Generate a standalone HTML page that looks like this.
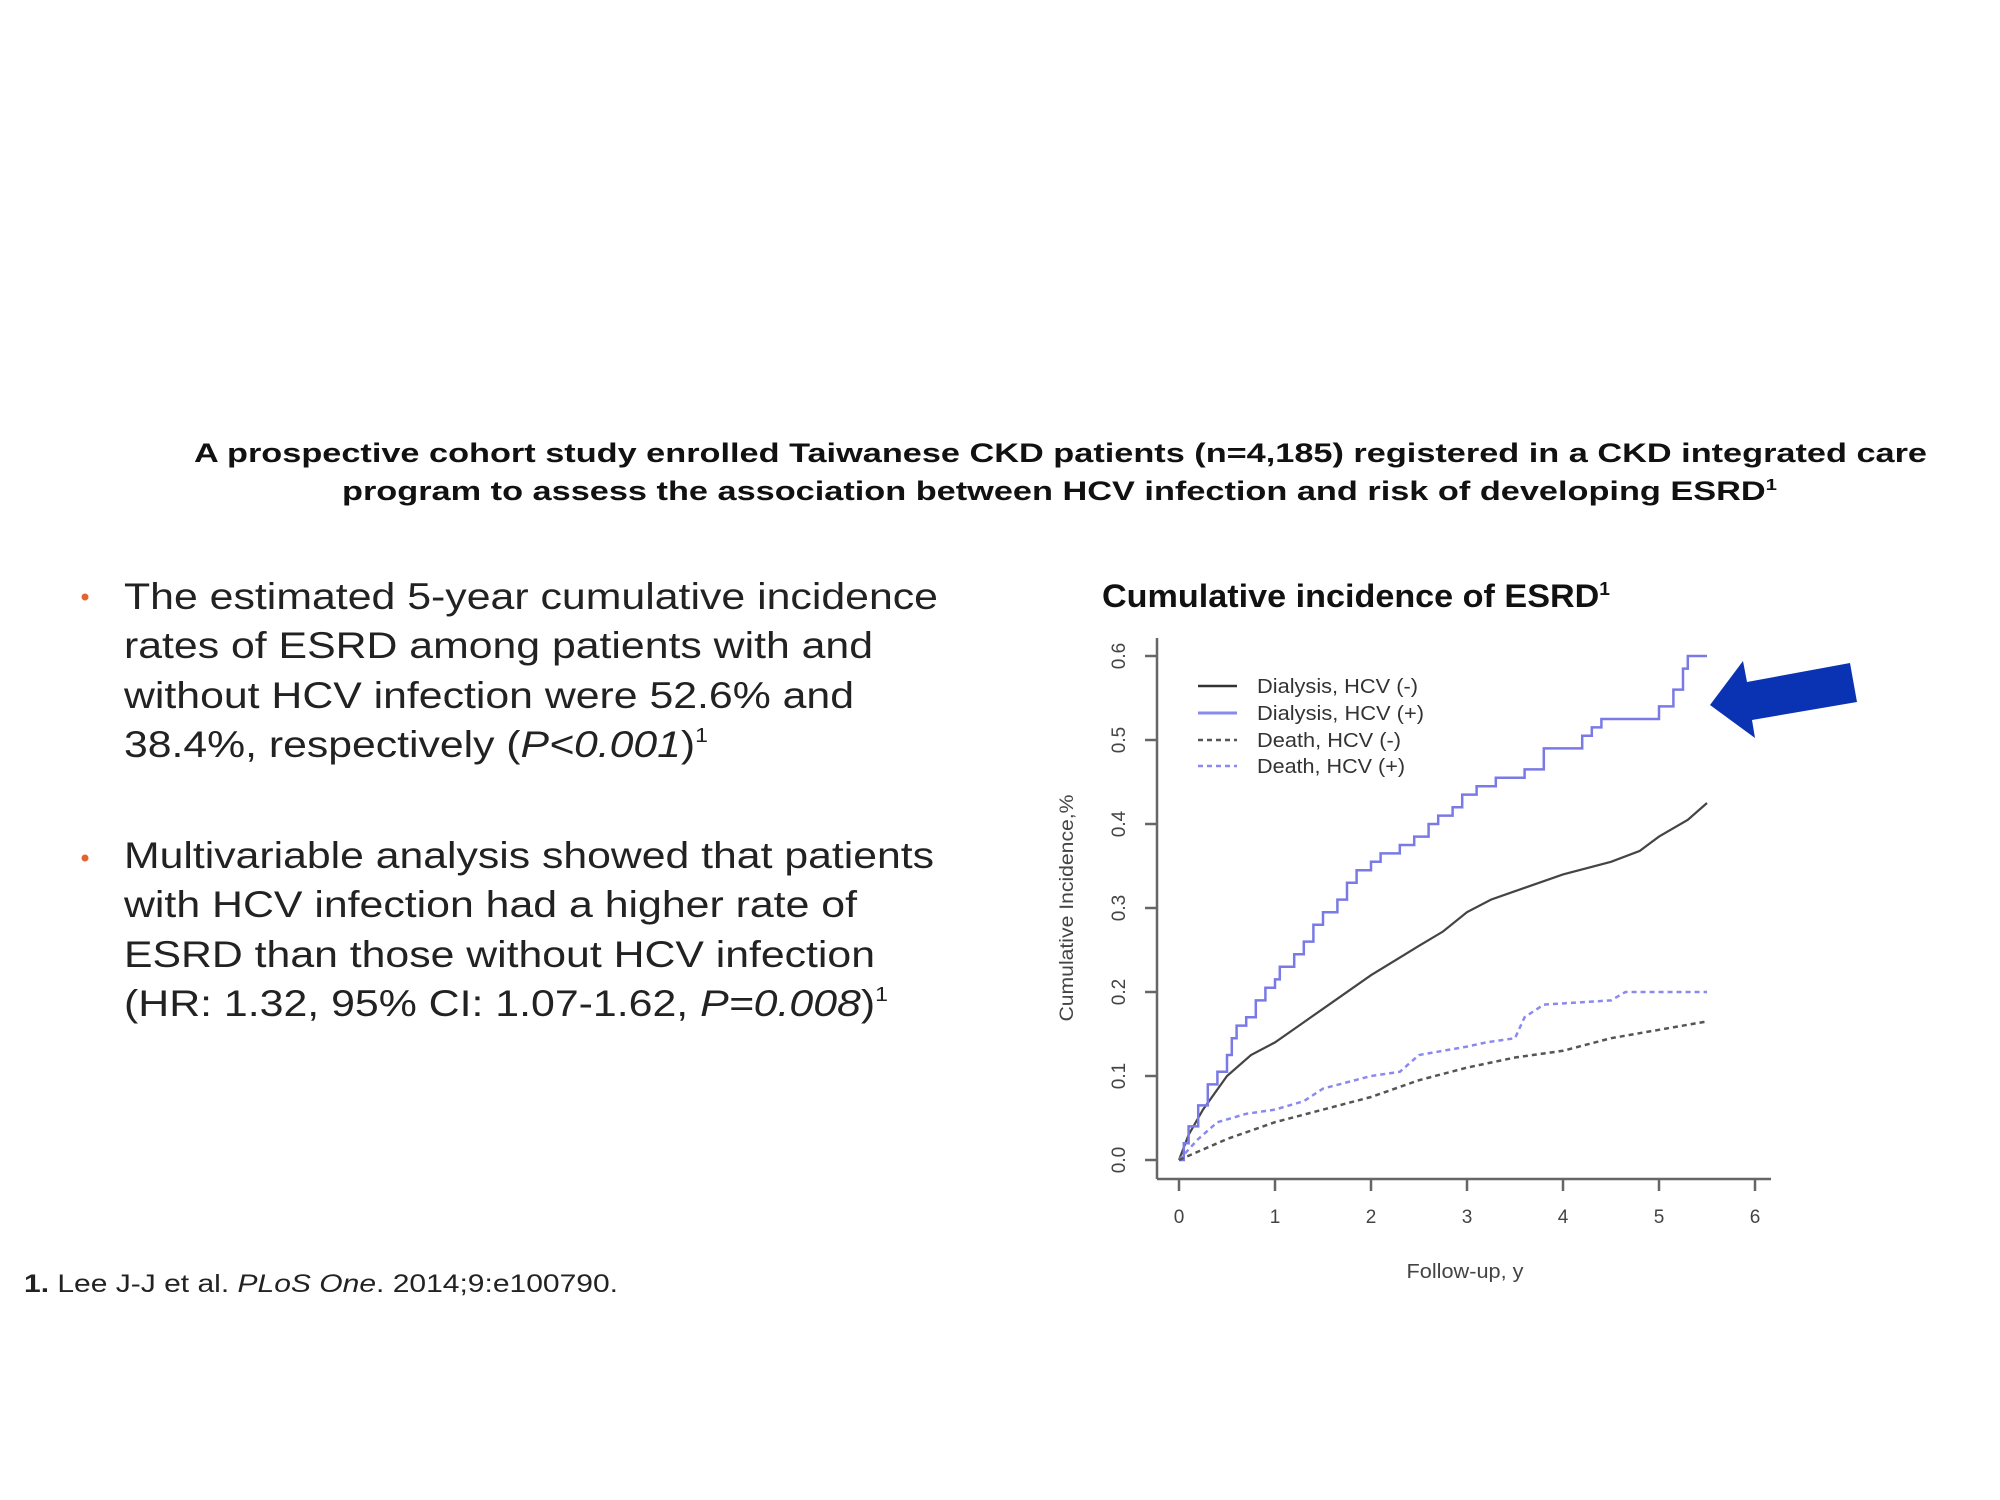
<!DOCTYPE html>
<html><head><meta charset="utf-8"><style>
html,body{margin:0;padding:0;background:#fff;}
svg{display:block;}
text{font-family:"Liberation Sans",Arial,sans-serif;}
</style></head><body>
<svg width="2000" height="1500" viewBox="0 0 2000 1500" xmlns="http://www.w3.org/2000/svg">
<rect width="2000" height="1500" fill="#fff"/>
<!-- header -->
<text x="194" y="462" font-size="27" font-weight="bold" fill="#111" textLength="1733" lengthAdjust="spacingAndGlyphs">A prospective cohort study enrolled Taiwanese CKD patients (n=4,185) registered in a CKD integrated care</text>
<text x="342" y="500" font-size="27" font-weight="bold" fill="#111" textLength="1435" lengthAdjust="spacingAndGlyphs">program to assess the association between HCV infection and risk of developing ESRD<tspan font-size="16" dy="-10">1</tspan></text>

<!-- bullets -->
<circle cx="85" cy="597" r="3.5" fill="#e8632b"/>
<circle cx="85" cy="858" r="3.5" fill="#e8632b"/>
<g font-size="37" fill="#222">
<text x="124" y="609" textLength="814" lengthAdjust="spacingAndGlyphs">The estimated 5-year cumulative incidence</text>
<text x="124" y="658" textLength="749" lengthAdjust="spacingAndGlyphs">rates of ESRD among patients with and</text>
<text x="124" y="708" textLength="730" lengthAdjust="spacingAndGlyphs">without HCV infection were 52.6% and</text>
<text x="124" y="757" textLength="584" lengthAdjust="spacingAndGlyphs">38.4%, respectively (<tspan font-style="italic">P&lt;0.001</tspan>)<tspan font-size="20" dy="-15">1</tspan></text>
<text x="124" y="868" textLength="810" lengthAdjust="spacingAndGlyphs">Multivariable analysis showed that patients</text>
<text x="124" y="917" textLength="733" lengthAdjust="spacingAndGlyphs">with HCV infection had a higher rate of</text>
<text x="124" y="967" textLength="751" lengthAdjust="spacingAndGlyphs">ESRD than those without HCV infection</text>
<text x="124" y="1016" textLength="764" lengthAdjust="spacingAndGlyphs">(HR: 1.32, 95% CI: 1.07-1.62, <tspan font-style="italic">P=0.008</tspan>)<tspan font-size="20" dy="-15">1</tspan></text>
</g>
<!-- footnote -->
<text x="24" y="1292" font-size="25" fill="#222" textLength="594" lengthAdjust="spacingAndGlyphs"><tspan font-weight="bold">1.</tspan> Lee J-J et al. <tspan font-style="italic">PLoS One</tspan>. 2014;9:e100790.</text>

<!-- chart title -->
<text x="1102" y="607" font-size="32" font-weight="bold" fill="#111" textLength="508" lengthAdjust="spacingAndGlyphs">Cumulative incidence of ESRD<tspan font-size="18" dy="-12">1</tspan></text>

<!-- axes -->
<g stroke="#666" stroke-width="2.5" fill="none">
<line x1="1157" y1="638" x2="1157" y2="1179"/>
<line x1="1157" y1="1179" x2="1771" y2="1179"/>
<line x1="1145" y1="1160" x2="1157" y2="1160"/>
<line x1="1145" y1="1076" x2="1157" y2="1076"/>
<line x1="1145" y1="992" x2="1157" y2="992"/>
<line x1="1145" y1="908" x2="1157" y2="908"/>
<line x1="1145" y1="824" x2="1157" y2="824"/>
<line x1="1145" y1="740" x2="1157" y2="740"/>
<line x1="1145" y1="656" x2="1157" y2="656"/>
<line x1="1179" y1="1179" x2="1179" y2="1191"/>
<line x1="1275" y1="1179" x2="1275" y2="1191"/>
<line x1="1371" y1="1179" x2="1371" y2="1191"/>
<line x1="1467" y1="1179" x2="1467" y2="1191"/>
<line x1="1563" y1="1179" x2="1563" y2="1191"/>
<line x1="1659" y1="1179" x2="1659" y2="1191"/>
<line x1="1755" y1="1179" x2="1755" y2="1191"/>
</g>
<g font-size="19" fill="#444" text-anchor="middle">
<text transform="translate(1125,1160) rotate(-90)">0.0</text>
<text transform="translate(1125,1076) rotate(-90)">0.1</text>
<text transform="translate(1125,992) rotate(-90)">0.2</text>
<text transform="translate(1125,908) rotate(-90)">0.3</text>
<text transform="translate(1125,824) rotate(-90)">0.4</text>
<text transform="translate(1125,740) rotate(-90)">0.5</text>
<text transform="translate(1125,656) rotate(-90)">0.6</text>
<text x="1179" y="1223">0</text>
<text x="1275" y="1223">1</text>
<text x="1371" y="1223">2</text>
<text x="1467" y="1223">3</text>
<text x="1563" y="1223">4</text>
<text x="1659" y="1223">5</text>
<text x="1755" y="1223">6</text>
<text x="1465" y="1278" font-size="20" textLength="117" lengthAdjust="spacingAndGlyphs">Follow-up, y</text>
<text transform="translate(1073,908) rotate(-90)" font-size="19" textLength="227" lengthAdjust="spacingAndGlyphs">Cumulative Incidence,%</text>
</g>

<!-- legend -->
<g stroke-width="2.5">
<line x1="1198" y1="686" x2="1237" y2="686" stroke="#333"/>
<line x1="1198" y1="713" x2="1237" y2="713" stroke="#8a8aee" stroke-width="3"/>
<line x1="1198" y1="740" x2="1237" y2="740" stroke="#555" stroke-dasharray="5,4"/>
<line x1="1198" y1="766" x2="1237" y2="766" stroke="#8a8aee" stroke-dasharray="5,4"/>
</g>
<g font-size="20" fill="#333">
<text x="1257" y="693" textLength="161" lengthAdjust="spacingAndGlyphs">Dialysis, HCV (-)</text>
<text x="1257" y="720" textLength="167" lengthAdjust="spacingAndGlyphs">Dialysis, HCV (+)</text>
<text x="1257" y="747" textLength="144" lengthAdjust="spacingAndGlyphs">Death, HCV (-)</text>
<text x="1257" y="773" textLength="148" lengthAdjust="spacingAndGlyphs">Death, HCV (+)</text>
</g>

<!-- series -->
<g transform="translate(1179,1160) scale(96,-840)" fill="none">
<polyline vector-effect="non-scaling-stroke" stroke="#444" stroke-width="2.2" points="0,0 0.1,0.03 0.25,0.06 0.5,0.1 0.75,0.125 1,0.14 1.25,0.16 1.5,0.18 2,0.22 2.5,0.255 2.75,0.272 3,0.295 3.25,0.31 3.5,0.32 4,0.34 4.5,0.355 4.8,0.368 5,0.385 5.3,0.405 5.5,0.425"/>
<polyline vector-effect="non-scaling-stroke" stroke="#7a7ae6" stroke-width="2.5" points="0,0 0.05,0 0.05,0.02 0.1,0.02 0.1,0.04 0.2,0.04 0.2,0.065 0.3,0.065 0.3,0.09 0.4,0.09 0.4,0.105 0.5,0.105 0.5,0.125 0.55,0.125 0.55,0.145 0.6,0.145 0.6,0.16 0.7,0.16 0.7,0.17 0.8,0.17 0.8,0.19 0.9,0.19 0.9,0.205 1,0.205 1,0.215 1.05,0.215 1.05,0.23 1.2,0.23 1.2,0.245 1.3,0.245 1.3,0.26 1.4,0.26 1.4,0.28 1.5,0.28 1.5,0.295 1.65,0.295 1.65,0.31 1.75,0.31 1.75,0.33 1.85,0.33 1.85,0.345 2,0.345 2,0.355 2.1,0.355 2.1,0.365 2.3,0.365 2.3,0.375 2.45,0.375 2.45,0.385 2.6,0.385 2.6,0.4 2.7,0.4 2.7,0.41 2.85,0.41 2.85,0.42 2.95,0.42 2.95,0.435 3.1,0.435 3.1,0.445 3.3,0.445 3.3,0.455 3.6,0.455 3.6,0.465 3.8,0.465 3.8,0.49 4.2,0.49 4.2,0.505 4.3,0.505 4.3,0.515 4.4,0.515 4.4,0.525 5,0.525 5,0.54 5.15,0.54 5.15,0.56 5.25,0.56 5.25,0.585 5.3,0.585 5.3,0.6 5.5,0.6"/>
<polyline vector-effect="non-scaling-stroke" stroke="#8a8aee" stroke-width="2.5" stroke-dasharray="5,4" points="0,0 0.2,0.025 0.4,0.045 0.7,0.055 1,0.06 1.3,0.07 1.5,0.085 2,0.1 2.3,0.105 2.5,0.125 3,0.135 3.2,0.14 3.5,0.145 3.6,0.17 3.8,0.185 4.5,0.19 4.65,0.2 5.5,0.2"/>
<polyline vector-effect="non-scaling-stroke" stroke="#555" stroke-width="2.5" stroke-dasharray="5,4" points="0,0 0.5,0.025 1,0.045 1.5,0.06 2,0.075 2.5,0.095 3,0.11 3.5,0.122 4,0.13 4.5,0.145 5,0.155 5.5,0.165"/>
</g>

<!-- arrow -->
<polygon points="1710,705 1743,661 1747,682 1850,663 1857,702 1752,720 1755,738" fill="#0a33b4"/>
</svg>
</body></html>
